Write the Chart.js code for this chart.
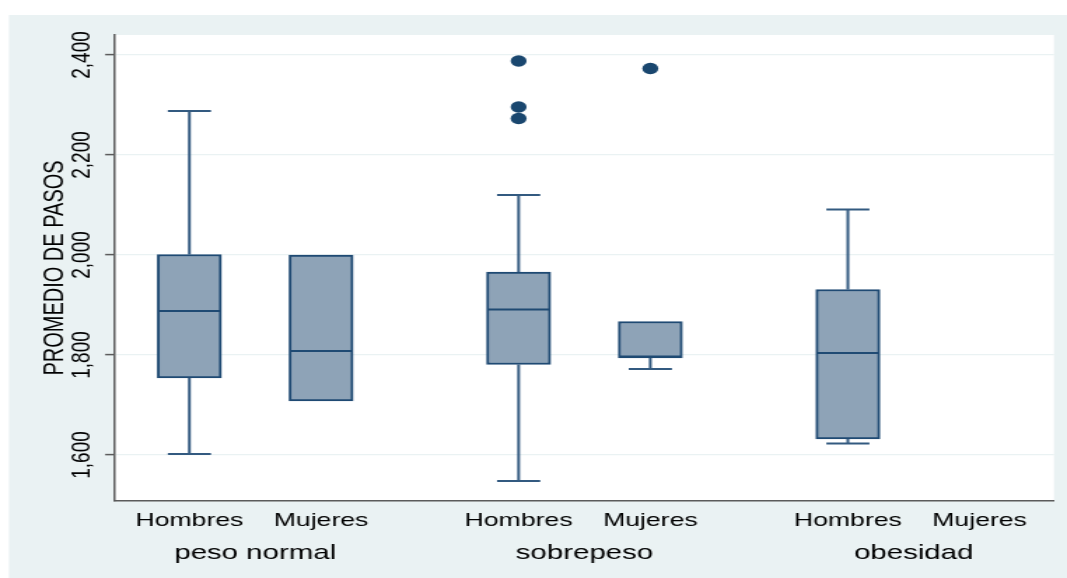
<!DOCTYPE html>
<html>
<head>
<meta charset="utf-8">
<script src="https://cdn.jsdelivr.net/npm/chart.js@4.4.1/dist/chart.umd.min.js"></script>
<style>
  html, body { margin: 0; padding: 0; background: #ffffff; overflow: hidden; }
  /* the figure is drawn narrow and widened, which gives the wide lettering */
  #wrap { width: 762px; height: 578px; transform: scaleX(1.40026); transform-origin: 0 0; }
</style>
</head>
<body>
<div id="wrap"><canvas id="c" width="762" height="578"></canvas></div>
<script>
// Groups and sexes, one box per (group, sex)
const groupLabels = ['peso normal', 'sobrepeso', 'obesidad'];
const sexLabels = ['Hombres', 'Mujeres'];

// Y axis ticks
const yTickValues = [1600, 1800, 2000, 2200, 2400];
const yTickLabels = ['1,600', '1,800', '2,000', '2,200', '2,400'];

// Box statistics, in order: peso normal H, M; sobrepeso H, M; obesidad H, M
const lowerWhisker  = [1602, 1708, 1548, 1772, 1623, null];
const lowerQuartile = [1754, 1708, 1781, 1794, 1632, null];
const medianValue   = [1888, 1808, 1891, 1797, 1804, null];
const upperQuartile = [2001, 2000, 1966, 1867, 1931, null];
const upperWhisker  = [2288, 2000, 2120, 1867, 2091, null];
const outsideValues = [[], [], [2388, 2296, 2273], [2373], [], []];

// Slot positions along x: boxes of a group side by side, wider gap between groups
const boxPos = [];
const groupCenter = [];
groupLabels.forEach((g, gi) => {
  sexLabels.forEach((s, si) => boxPos.push(gi * 5 + si * 2));
  groupCenter.push(gi * 5 + 1);
});

const NAVY = '#1f4a73';
const WHISKER = '#335a80';
const FILL = '#8ea3b7';
const AXIS = '#5b5b5b';
const PANEL = '#eaf2f3';
const BOX_WIDTH = 45.7;
const CAP_HALF = 15.4;

Chart.defaults.font.family = "'Liberation Sans', Arial, Helvetica, sans-serif";
Chart.defaults.color = '#000000';

const boxData = [];
boxPos.forEach((x, i) => {
  if (lowerQuartile[i] != null) boxData.push({ x: x, y: [lowerQuartile[i], upperQuartile[i]] });
});

const outlierData = [];
outsideValues.forEach((vals, i) => vals.forEach(v => outlierData.push({ x: boxPos[i], y: v })));

const backdrop = {
  id: 'backdrop',
  beforeDraw(chart) {
    const { ctx, chartArea: a, width, height } = chart;
    ctx.save();
    ctx.fillStyle = '#ffffff';
    ctx.fillRect(0, 0, width, height);
    ctx.fillStyle = PANEL;
    ctx.fillRect(6.4, 15, width - 6.4, height - 15);
    ctx.fillStyle = '#ffffff';
    ctx.fillRect(a.left, a.top, a.right - a.left, a.bottom - a.top);
    ctx.restore();
  }
};

const whiskers = {
  id: 'whiskers',
  beforeDatasetsDraw(chart) {
    const { ctx, scales: { x, y } } = chart;
    ctx.save();
    ctx.strokeStyle = WHISKER;
    ctx.lineWidth = 2;
    boxPos.forEach((p, i) => {
      if (lowerQuartile[i] == null) return;
      const px = x.getPixelForValue(p);
      const segs = [[upperQuartile[i], upperWhisker[i]], [lowerQuartile[i], lowerWhisker[i]]];
      segs.forEach(([from, to]) => {
        if (to === from) return;
        const y0 = y.getPixelForValue(from);
        const y1 = y.getPixelForValue(to);
        ctx.beginPath();
        ctx.moveTo(px, y0);
        ctx.lineTo(px, y1);
        ctx.moveTo(px - CAP_HALF, y1);
        ctx.lineTo(px + CAP_HALF, y1);
        ctx.stroke();
      });
    });
    ctx.restore();
  },
  afterDatasetsDraw(chart) {
    const { ctx, scales: { x, y } } = chart;
    ctx.save();
    ctx.strokeStyle = NAVY;
    ctx.lineWidth = 2;
    boxPos.forEach((p, i) => {
      if (medianValue[i] == null) return;
      const px = x.getPixelForValue(p);
      const half = BOX_WIDTH / 2;
      const py = y.getPixelForValue(medianValue[i]);
      ctx.beginPath();
      ctx.moveTo(px - half + 1, py);
      ctx.lineTo(px + half - 1, py);
      ctx.stroke();
    });
    ctx.restore();
  }
};

new Chart(document.getElementById('c'), {
  type: 'bar',
  data: {
    datasets: [
      {
        type: 'bar',
        data: boxData,
        backgroundColor: FILL,
        borderColor: NAVY,
        borderWidth: 2,
        borderSkipped: false,
        barThickness: BOX_WIDTH,
        order: 2
      },
      {
        type: 'scatter',
        data: outlierData,
        pointRadius: 5.7,
        pointBackgroundColor: '#1a476f',
        pointBorderWidth: 0,
        order: 1
      }
    ]
  },
  options: {
    responsive: false,
    animation: false,
    devicePixelRatio: 1,
    layout: { padding: { top: 35, right: 9.3, left: 0, bottom: 0 } },
    plugins: { legend: { display: false }, tooltip: { enabled: false } },
    scales: {
      x: {
        type: 'linear', position: 'bottom', min: -1.13, max: 13.13, offset: false, weight: 0,
        afterBuildTicks: s => { s.ticks = boxPos.map(v => ({ value: v })); },
        afterFit: s => { s.height = 36; },
        grid: { display: false, drawTicks: false },
        border: { display: true, color: AXIS, width: 1.5 },
        ticks: {
          autoSkip: false, minRotation: 0, maxRotation: 0, padding: 8,
          color: '#000000', font: { size: 19 },
          callback: (v, i) => sexLabels[i % 2]
        }
      },
      x2: {
        type: 'linear', axis: 'x', position: 'bottom', min: -1.13, max: 13.13, offset: false, weight: 1,
        afterBuildTicks: s => { s.ticks = groupCenter.map(v => ({ value: v })); },
        afterFit: s => { s.height = 41; },
        grid: { display: false, drawTicks: false },
        border: { display: false },
        ticks: {
          autoSkip: false, minRotation: 0, maxRotation: 0, padding: 4,
          color: '#000000', font: { size: 21 },
          callback: (v, i) => groupLabels[i]
        }
      },
      y: {
        type: 'linear', min: 1508, max: 2440,
        afterBuildTicks: s => { s.ticks = yTickValues.map(v => ({ value: v })); },
        afterFit: s => { s.width = 82.1; },
        grid: { color: PANEL, lineWidth: 1.2, drawTicks: true, tickLength: 7, tickColor: AXIS, tickWidth: 1.5 },
        border: { display: true, color: AXIS, width: 1.5 },
        ticks: {
          minRotation: 90, maxRotation: 90, padding: 16, labelOffset: -23.8,
          color: '#000000', font: { size: 19 },
          callback: (v, i) => yTickLabels[i]
        },
        title: {
          display: true, text: 'PROMEDIO DE PASOS', color: '#000000',
          font: { size: 20 }, padding: { top: 27, bottom: 0 }
        }
      }
    }
  },
  plugins: [backdrop, whiskers]
});
</script>
</body>
</html>
